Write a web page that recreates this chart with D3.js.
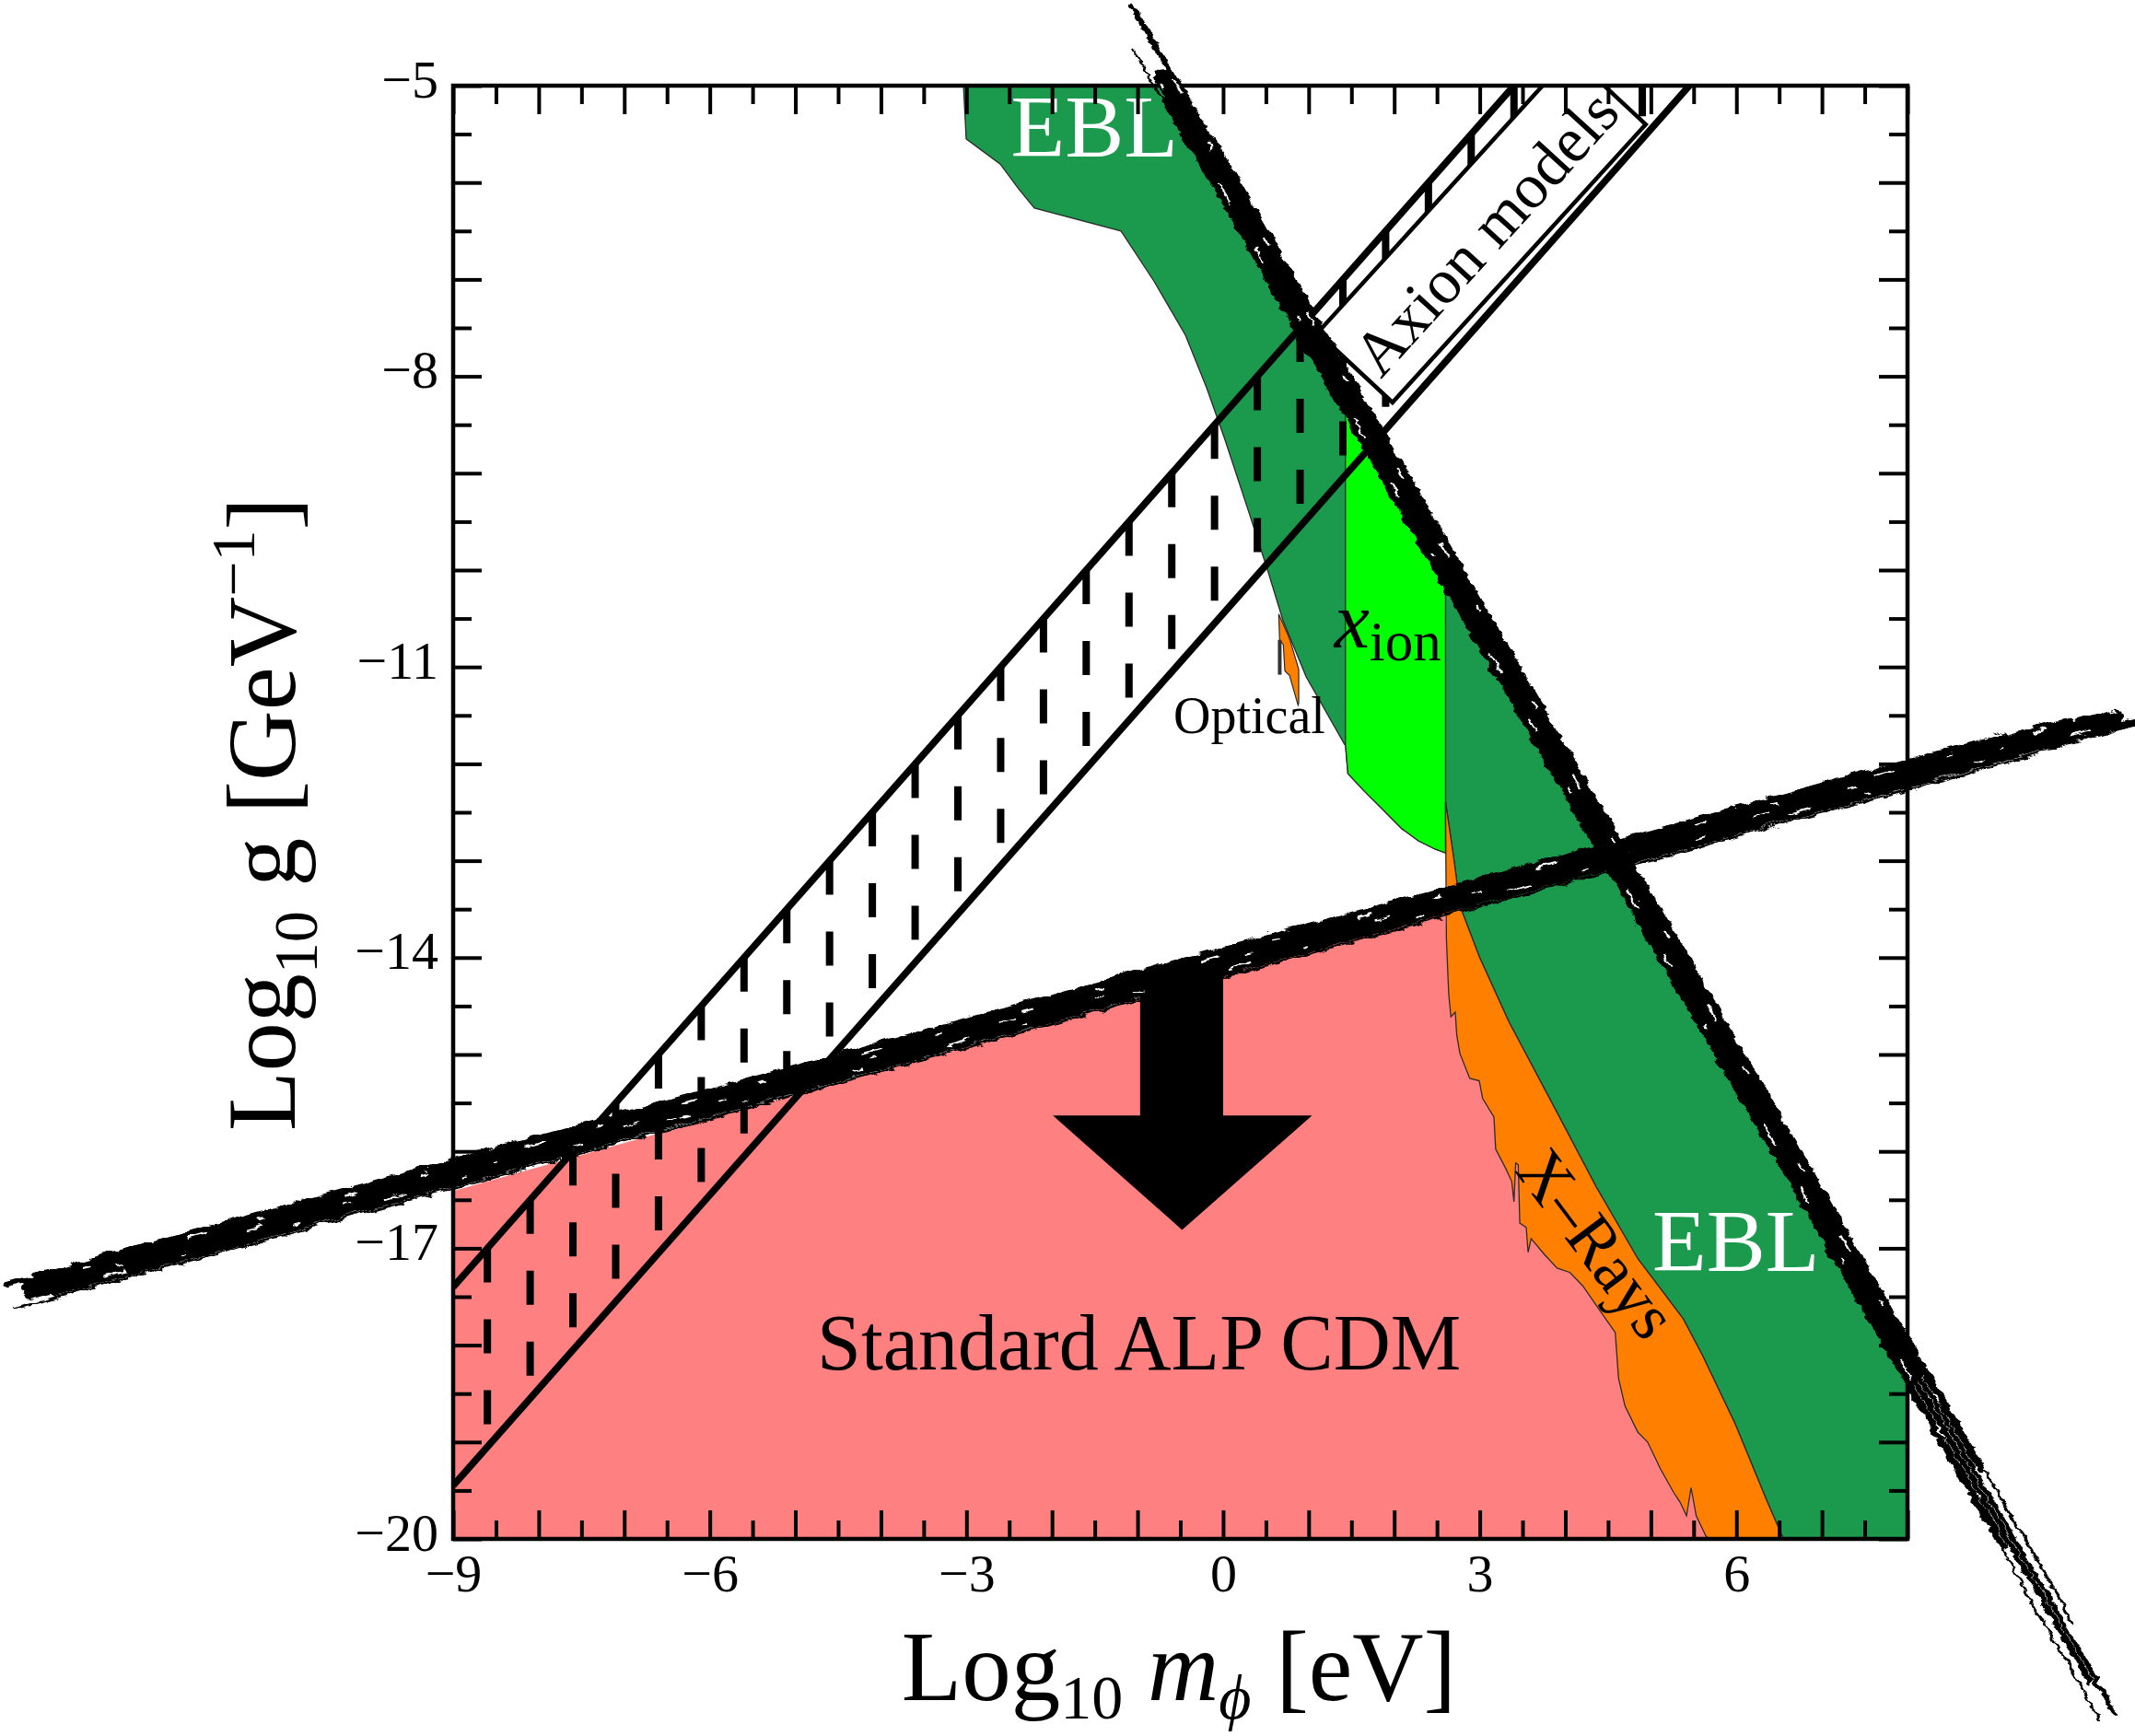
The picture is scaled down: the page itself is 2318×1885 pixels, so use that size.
<!DOCTYPE html>
<html>
<head>
<meta charset="utf-8">
<script src="https://cdn.jsdelivr.net/npm/d3@7"></script>
<style>
  html, body { margin: 0; padding: 0; background: #ffffff; }
  svg { display: block; font-family: "Liberation Serif", "Times New Roman", serif; }
</style>
</head>
<body>
<svg id="chart" width="2318" height="1885"></svg>
<script>
// ---------------------------------------------------------------
// ALP parameter space: log10 m_phi [eV] vs log10 g [GeV^-1]
// ---------------------------------------------------------------
const xDomain = [-9, 8];
const yDomain = [-20, -5];
const xIntTicks  = [-9,-8,-7,-6,-5,-4,-3,-2,-1,0,1,2,3,4,5,6,7,8];
const xHalfTicks = [-8.5,-7.5,-6.5,-5.5,-4.5,-3.5,-2.5,-1.5,-0.5,0.5,1.5,2.5,3.5,4.5,5.5,6.5,7.5];
const yIntTicks  = [-20,-19,-18,-17,-16,-15,-14,-13,-12,-11,-10,-9,-8,-7,-6,-5];
const yHalfTicks = [-19.5,-18.5,-17.5,-16.5,-15.5,-14.5,-13.5,-12.5,-11.5,-10.5,-9.5,-8.5,-7.5,-6.5,-5.5];
const labelledTicksX = [-9, -6, -3, 0, 3, 6];
const labelledTicksY = [-20, -17, -14, -11, -8, -5];

// EBL excluded band: low-mass boundary
const eblLeftEdge = [[-3.035,-5],[-3.003,-5.55],[-2.605,-5.81],[-2.39,-6.065],[-2.206,-6.264],
  [-1.194,-6.50],[-0.807,-7.02],[-0.44,-7.576],[-0.193,-8.118],[0.02,-8.65],[0.30,-9.40],
  [0.52,-10.0],[0.70,-10.52],[0.97,-11.10],[1.42,-11.80]];
// EBL excluded band: high-mass / strong-coupling boundary
const eblOuterEdge = [[-0.5,-5],[8,-17.95]];
const eblBottomRight = [[8,-20]];

// Ionisation fraction bound (x_ion)
const xionBottom = [[1.43,-11.80],[1.459,-12.10],[1.659,-12.29],[1.853,-12.46],[2.09,-12.67],
  [2.283,-12.795],[2.477,-12.88],[2.6,-12.92]];
const xionTop = [[1.43,-8.18],[2.6,-9.96]];

// X-ray bound: upper (smooth) and lower (jagged) edges
const xrayUpper = [[2.6,-12.39],[2.70,-13.0],[2.77,-13.47],[2.994,-13.99],[3.339,-14.66],[3.904,-15.60],
  [4.357,-16.36],[4.849,-17.11],[5.379,-17.73],[5.606,-18.11],[5.984,-18.81],[6.362,-19.62],[6.55,-20.0]];
const xrayLower = [[2.6,-12.39],[2.61,-13.8],[2.637,-14.373],[2.663,-14.61],[2.714,-14.563],[2.731,-14.80],
  [2.768,-14.99],[2.883,-15.247],[2.994,-15.271],[3.034,-15.455],[3.166,-15.645],[3.186,-15.978],
  [3.299,-16.168],[3.374,-16.31],[3.40,-16.52],[3.42,-16.12],[3.45,-16.14],[3.468,-16.74],[3.543,-16.785],
  [3.565,-17.042],[3.601,-16.90],[3.752,-17.06],[3.904,-17.205],[4.055,-17.25],[4.206,-17.39],
  [4.433,-17.68],[4.584,-17.87],[4.622,-18.34],[4.698,-18.63],[4.849,-18.90],[4.962,-19.0],
  [5.114,-19.28],[5.266,-19.52],[5.341,-19.62],[5.417,-19.76],[5.47,-19.47],[5.53,-19.76],
  [5.643,-19.97],[5.68,-20]];

// Optical bound (small sliver)
const opticalRegion = [[0.65,-10.453],[0.776,-10.706],[0.884,-11.024],[0.884,-11.372],[0.876,-11.394],
  [0.848,-11.308],[0.776,-11.087],[0.722,-11.04],[0.704,-10.77],[0.661,-10.72]];
const opticalMark = [[0.662,-10.72],[0.662,-11.08]];

// Standard ALP CDM window: upper edge
const cdmTop = [[-9,-16.41],[2.6,-13.53]];
const cdmCorner = [[-9,-20]];

// Axion model band and its hatching
const axionUpper = [[-9,-17.4],[3.4,-5]];
const axionLower = [[-9,-19.45],[5.45,-5]];
const hatchX = [-8.6,-8.1,-7.6,-7.1,-6.6,-6.1,-5.6,-5.1,-4.6,-4.1,-3.6,-3.1,-2.6,-2.1,-1.6,-1.1,
  -0.6,-0.1,0.4,0.9,1.4,1.9,2.4,2.9,3.4,3.9,4.4,4.9];
const axionBox = [[1.105,-7.55],[1.98,-8.27],[4.94,-5.4],[4.065,-4.68]];

// Hand-drawn limit lines
const steepLimit = [[-1.18,-4.2],[10.36,-21.79]];
const shallowLimit = [[-14.2,-17.47],[10.65,-11.45]];

// Downward arrow into the CDM window
const arrowShape = [[-0.97,-14.15],[0.0,-14.15],[0.0,-15.63],[1.04,-15.63],[-0.48,-16.81],
  [-1.99,-15.63],[-0.97,-15.63]];

// ---------------------------------------------------------------
const svg = d3.select("#chart");
const x = d3.scaleLinear().domain(xDomain).range([492, 2071]);
const y = d3.scaleLinear().domain(yDomain).range([1671, 93]);
const X0 = x(xDomain[0]), X1 = x(xDomain[1]), Y0 = y(yDomain[1]), Y1 = y(yDomain[0]);
const SERIF = "Liberation Serif, Times New Roman, serif";

const defs = svg.append("defs");
defs.append("clipPath").attr("id", "plotClip")
  .append("rect").attr("x", X0).attr("y", Y0).attr("width", X1 - X0).attr("height", Y1 - Y0);
const rough = defs.append("filter").attr("id", "rough")
  .attr("filterUnits", "userSpaceOnUse").attr("x", 0).attr("y", 0).attr("width", 2318).attr("height", 1885);
rough.append("feTurbulence").attr("type", "turbulence").attr("baseFrequency", "0.03 0.08")
  .attr("numOctaves", 2).attr("seed", 11).attr("result", "noise");
rough.append("feDisplacementMap").attr("in", "SourceGraphic").attr("in2", "noise")
  .attr("scale", 8).attr("xChannelSelector", "R").attr("yChannelSelector", "G");

const line = d3.line().x(d => x(d[0])).y(d => y(d[1]));
const poly = pts => line(pts) + "Z";
const interp = (seg, xv) => {
  const [[xa, ya], [xb, yb]] = seg;
  return ya + (yb - ya) * (xv - xa) / (xb - xa);
};

const plot = svg.append("g").attr("clip-path", "url(#plotClip)");

// --- regions ---
const cdmRegion = cdmCorner.concat(cdmTop, xrayLower.slice(1));
plot.append("path").attr("d", poly(cdmRegion)).attr("fill", "#ff8080");

const eblRegion = eblLeftEdge.concat(xionBottom, xrayUpper, eblBottomRight, eblOuterEdge.slice().reverse());
plot.append("path").attr("d", poly(eblRegion))
  .attr("fill", "#1b994c").attr("stroke", "#2a2a2a").attr("stroke-width", 1.3);

const xionRegion = [xionTop[0]].concat(xionBottom, [xionTop[1]]);
plot.append("path").attr("d", poly(xionRegion))
  .attr("fill", "#00ff00").attr("stroke", "#2a2a2a").attr("stroke-width", 1.3);

const xrayRegion = xrayUpper.concat(xrayLower.slice().reverse());
plot.append("path").attr("d", poly(xrayRegion))
  .attr("fill", "#ff8000").attr("stroke", "#2a2a2a").attr("stroke-width", 1.3);

plot.append("path").attr("d", poly(opticalRegion))
  .attr("fill", "#ff8000").attr("stroke", "#2a2a2a").attr("stroke-width", 1.2);
plot.append("path").attr("d", line(opticalMark))
  .attr("stroke", "#333").attr("stroke-width", 4).attr("fill", "none");

// --- axion band hatching ---
plot.append("g").selectAll("line").data(hatchX).join("line")
  .attr("x1", d => x(d)).attr("x2", d => x(d))
  .attr("y1", d => y(interp(axionUpper, d)))
  .attr("y2", d => y(interp(axionLower, d)))
  .attr("stroke", "#000").attr("stroke-width", 8)
  .attr("stroke-dasharray", "37 40");

[axionUpper, axionLower].forEach(seg => {
  plot.append("path").attr("d", line(seg))
    .attr("stroke", "#000").attr("stroke-width", 7.5).attr("fill", "none");
});

plot.append("path").attr("d", poly(axionBox))
  .attr("fill", "#fff").attr("stroke", "#000").attr("stroke-width", 4.5).attr("stroke-linejoin", "miter");

// --- arrow ---
plot.append("path").attr("d", poly(arrowShape)).attr("fill", "#000");

// --- region labels ---
const labels = svg.append("g").attr("font-family", SERIF);
labels.append("text").attr("x", x(-2.48)).attr("y", y(-5.73))
  .attr("font-size", 96).attr("fill", "#fff").text("EBL");
labels.append("text").attr("x", x(5.018)).attr("y", y(-17.234))
  .attr("font-size", 96).attr("fill", "#fff").text("EBL");
labels.append("text").attr("x", x(-0.58)).attr("y", y(-11.68))
  .attr("font-size", 56).attr("fill", "#000").text("Optical");
const xion = labels.append("text").attr("x", x(1.30)).attr("y", y(-10.80)).attr("fill", "#000");
xion.append("tspan").attr("font-size", 86).attr("font-style", "italic").text("x");
xion.append("tspan").attr("font-size", 61).attr("dy", 14).text("ion");
labels.append("text")
  .attr("transform", `translate(${x(4.37)},${y(-16.95)}) rotate(53)`)
  .attr("text-anchor", "middle").attr("dominant-baseline", "central")
  .attr("font-size", 73).attr("fill", "#000").text("X\u2013Rays");
labels.append("text").attr("x", x(-0.983)).attr("y", y(-18.25))
  .attr("text-anchor", "middle").attr("font-size", 86).attr("fill", "#000")
  .text("Standard ALP CDM");
labels.append("text")
  .attr("transform", `translate(${x(3.07)},${y(-6.52)}) rotate(-47.7)`)
  .attr("text-anchor", "middle").attr("dominant-baseline", "central")
  .attr("font-size", 69).attr("fill", "#000").text("Axion models");

// --- frame and ticks ---
const fmt = d => (d < 0 ? "\u2212" + Math.abs(d) : String(d));
const axes = svg.append("g");
function styleAxis(g) {
  g.attr("font-family", SERIF);
  g.select(".domain").remove();
  g.selectAll(".tick line").attr("stroke", "#000").attr("stroke-width", 4);
  g.selectAll("text").attr("font-family", SERIF).attr("font-size", 58).attr("fill", "#000");
}
const LONG = 31, SHORT = 20;
axes.append("g").attr("transform", `translate(0,${Y1})`)
  .call(d3.axisBottom(x).tickValues(xIntTicks).tickSize(-LONG).tickPadding(16)
    .tickFormat(d => labelledTicksX.includes(d) ? fmt(d) : ""))
  .call(styleAxis);
axes.append("g").attr("transform", `translate(0,${Y1})`)
  .call(d3.axisBottom(x).tickValues(xHalfTicks).tickSize(-SHORT).tickFormat(""))
  .call(styleAxis);
axes.append("g").attr("transform", `translate(0,${Y0})`)
  .call(d3.axisTop(x).tickValues(xIntTicks).tickSize(-LONG).tickFormat(""))
  .call(styleAxis);
axes.append("g").attr("transform", `translate(0,${Y0})`)
  .call(d3.axisTop(x).tickValues(xHalfTicks).tickSize(-SHORT).tickFormat(""))
  .call(styleAxis);
const leftAx = axes.append("g").attr("transform", `translate(${X0},0)`)
  .call(d3.axisLeft(y).tickValues(yIntTicks).tickSize(-LONG).tickPadding(16)
    .tickFormat(d => labelledTicksY.includes(d) ? fmt(d) : ""))
  .call(styleAxis);
leftAx.selectAll("text").attr("dy", "0.21em");
axes.append("g").attr("transform", `translate(${X0},0)`)
  .call(d3.axisLeft(y).tickValues(yHalfTicks).tickSize(-SHORT).tickFormat(""))
  .call(styleAxis);
axes.append("g").attr("transform", `translate(${X1},0)`)
  .call(d3.axisRight(y).tickValues(yIntTicks).tickSize(-LONG).tickFormat(""))
  .call(styleAxis);
axes.append("g").attr("transform", `translate(${X1},0)`)
  .call(d3.axisRight(y).tickValues(yHalfTicks).tickSize(-SHORT).tickFormat(""))
  .call(styleAxis);
axes.append("rect").attr("x", X0).attr("y", Y0).attr("width", X1 - X0).attr("height", Y1 - Y0)
  .attr("fill", "none").attr("stroke", "#000").attr("stroke-width", 4.5);

// --- axis titles ---
const xt = svg.append("text").attr("x", 1280).attr("y", 1846).attr("font-family", SERIF)
  .attr("text-anchor", "middle").attr("font-size", 107).attr("fill", "#000");
xt.append("tspan").text("Log");
xt.append("tspan").attr("font-size", 68).attr("dy", 20).text("10");
xt.append("tspan").attr("dy", -20).text("\u00a0");
xt.append("tspan").attr("font-style", "italic").text("m");
xt.append("tspan").attr("font-style", "italic").attr("font-size", 68).attr("dy", 20).text("\u03d5");
xt.append("tspan").attr("dy", -20).text("\u00a0[eV]");

const yt = svg.append("text").attr("transform", "translate(320,884) rotate(-90)").attr("font-family", SERIF)
  .attr("text-anchor", "middle").attr("font-size", 106).attr("fill", "#000");
yt.append("tspan").text("Log");
yt.append("tspan").attr("font-size", 68).attr("dy", 24).text("10");
yt.append("tspan").attr("dy", -24).text("\u00a0g [GeV");
yt.append("tspan").attr("font-size", 68).attr("dy", -44).text("\u22121");
yt.append("tspan").attr("dy", 44).text("]");

// --- hand-drawn limit lines (drawn over everything, extend past the frame) ---
function scribble(pts, strands, specks) {
  const g = svg.append("g").attr("filter", "url(#rough)");
  const [xa, ya] = [x(pts[0][0]), y(pts[0][1])];
  const [xb, yb] = [x(pts[1][0]), y(pts[1][1])];
  const dx = xb - xa, dy = yb - ya, L = Math.hypot(dx, dy);
  const nx = -dy / L, ny = dx / L;
  const seg = s => ({
    x1: xa + dx * s.t0 + nx * s.off, y1: ya + dy * s.t0 + ny * s.off,
    x2: xa + dx * s.t1 + nx * s.off, y2: ya + dy * s.t1 + ny * s.off
  });
  strands.forEach(s => {
    const p = seg(s);
    g.append("line").attr("x1", p.x1).attr("y1", p.y1).attr("x2", p.x2).attr("y2", p.y2)
      .attr("stroke", "#000").attr("stroke-width", s.w).attr("stroke-linecap", "round");
  });
  specks.forEach(s => {
    const p = seg(s);
    g.append("line").attr("x1", p.x1).attr("y1", p.y1).attr("x2", p.x2).attr("y2", p.y2)
      .attr("stroke", "#fff").attr("stroke-width", s.w).attr("stroke-dasharray", s.dash);
  });
}

scribble(shallowLimit,
  [{off: 0, w: 20, t0: 0.01, t1: 0.99},
   {off: -11, w: 6, t0: 0.0, t1: 0.97},
   {off: 10, w: 7, t0: 0.02, t1: 1.0},
   {off: -15, w: 3, t0: 0.04, t1: 0.94},
   {off: 15, w: 2.5, t0: 0.0, t1: 0.96}],
  [{off: -8, w: 2.5, dash: "14 70 8 110 22 60 6 90", t0: 0.0, t1: 1.0},
   {off: 7, w: 2, dash: "10 95 25 60 6 120", t0: 0.0, t1: 1.0},
   {off: -1, w: 1.5, dash: "6 140 18 90 10 160", t0: 0.05, t1: 0.95}]);

scribble(steepLimit,
  [{off: 0, w: 19, t0: 0.04, t1: 0.80},
   {off: -10, w: 6, t0: 0.0, t1: 0.86},
   {off: 9, w: 7, t0: 0.05, t1: 0.9},
   {off: -14, w: 3, t0: 0.08, t1: 0.95},
   {off: 13, w: 2.5, t0: 0.02, t1: 1.0},
   {off: 2, w: 6, t0: 0.78, t1: 0.98},
   {off: -4, w: 5, t0: 0.8, t1: 1.0}],
  [{off: -7, w: 2.2, dash: "12 80 20 60 8 110", t0: 0.0, t1: 1.0},
   {off: 6, w: 2, dash: "18 70 6 120 26 55", t0: 0.0, t1: 1.0}]);
</script>
</body>
</html>
